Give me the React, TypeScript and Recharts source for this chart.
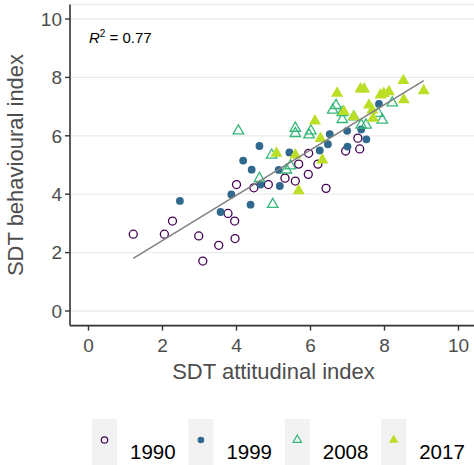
import React from "react";
import { ScatterChart, Scatter, XAxis, YAxis, CartesianGrid, Label } from "recharts";

// values (x = attitudinal, y = behavioural)
const x1990 = [1.21, 2.05, 2.27, 2.98, 3.52, 3.09, 3.77, 3.95, 3.96, 4.0, 4.47, 4.86, 5.31, 5.59, 5.68, 5.94, 5.95, 6.2, 6.42, 6.95, 7.28, 7.33];
const y1990 = [2.63, 2.63, 3.08, 2.57, 2.25, 1.71, 3.34, 3.08, 2.48, 4.33, 4.22, 4.33, 4.55, 4.45, 5.03, 4.68, 5.4, 5.03, 4.2, 5.48, 5.92, 5.55];

const x1999 = [2.47, 3.57, 3.86, 4.38, 4.41, 4.65, 5.17, 4.62, 4.18, 5.43, 5.14, 7.85, 7.51, 7.37, 6.99, 7.0, 6.47, 6.52, 6.25];
const y1999 = [3.77, 3.39, 3.99, 3.64, 4.84, 4.33, 4.28, 5.65, 5.15, 5.43, 4.83, 7.09, 5.88, 6.22, 6.17, 5.63, 5.71, 6.06, 5.5];

const x2008 = [4.05, 4.62, 4.98, 4.95, 5.59, 5.59, 5.35, 5.46, 6.01, 5.96, 6.69, 6.6, 6.86, 6.86, 7.17, 7.37, 7.5, 7.83, 7.94, 8.21];
const y2008 = [6.17, 4.54, 3.65, 5.34, 6.26, 6.08, 4.83, 4.97, 6.17, 6.03, 7.04, 6.88, 6.8, 6.56, 6.65, 6.37, 6.37, 6.77, 6.54, 7.13];

const x2017 = [5.08, 5.59, 5.68, 6.12, 6.27, 6.32, 6.72, 7.35, 7.45, 7.89, 8.12, 8.51, 9.06, 8.52, 7.58, 7.17, 7.69, 6.9, 7.98, 7.67];
const y2017 = [5.4, 5.34, 4.12, 6.51, 5.91, 5.17, 7.46, 7.6, 7.6, 7.4, 7.51, 7.89, 7.54, 7.23, 7.05, 6.65, 6.6, 6.83, 7.45, 6.88];

// fitted line end points
const fitX = [1.21, 9.06];
const fitY = [1.8, 7.89];

const years = ["1990", "1999", "2008", "2017"];
const ticks = [0, 2, 4, 6, 8, 10];

const COLORS = ["#440154", "#31688E", "#35B779", "#BBDF27"];
const FONT = "'Liberation Sans', Arial, sans-serif";

const zip = (xs: number[], ys: number[]) => xs.map((x, i) => ({ x, y: ys[i] }));

const OpenCircle = (p: any) => <circle cx={p.cx} cy={p.cy} r={4} fill="none" stroke={COLORS[0]} strokeWidth={1.3} />;
const DotShape = (p: any) => <circle cx={p.cx} cy={p.cy} r={3.9} fill={COLORS[1]} />;
const triPath = (cx: number, cy: number, s: number) =>
  `M${cx},${cy - s * 0.58} L${cx + s * 0.5},${cy + s * 0.29} L${cx - s * 0.5},${cy + s * 0.29} Z`;
const OpenTri = (p: any) => <path d={triPath(p.cx, p.cy, 10.5)} fill="none" stroke={COLORS[2]} strokeWidth={1.3} />;
const FillTri = (p: any) => <path d={triPath(p.cx, p.cy, 12)} fill={COLORS[3]} />;

function LegendKey({ i }: { i: number }) {
  const bx = 92 + i * 96.4;
  const cx = bx + 12.5;
  const cy = 40;
  let sym;
  if (i === 0) sym = <circle cx={cx} cy={cy} r={3.2} fill="none" stroke={COLORS[0]} strokeWidth={1.2} />;
  else if (i === 1) sym = <circle cx={cx} cy={cy} r={3.3} fill={COLORS[1]} />;
  else if (i === 2) sym = <path d={triPath(cx, cy, 8.5)} fill="none" stroke={COLORS[2]} strokeWidth={1.2} />;
  else sym = <path d={triPath(cx, cy, 9.5)} fill={COLORS[3]} />;
  return (
    <g>
      <rect x={bx} y={19} width={25} height={60} fill="#F2F2F2" />
      {sym}
      <text x={bx + 38} y={59} fontSize={20.5} fill="#000" fontFamily={FONT}>
        {years[i]}
      </text>
    </g>
  );
}

export default function App() {
  return (
    <div style={{ position: "absolute", left: 0, top: 0, width: 474, height: 465, overflow: "hidden", background: "#fff", fontFamily: FONT }}>
      <ScatterChart width={477} height={390} margin={{ top: 4.4, right: 0, bottom: 0, left: 0 }}>
        <CartesianGrid vertical={false} stroke="#EBEBEB" strokeWidth={1.3} />
        <XAxis
          type="number"
          dataKey="x"
          domain={[-0.5, 10.5]}
          ticks={ticks}
          allowDataOverflow
          height={64.4}
          tickSize={5}
          tickMargin={8}
          tick={{ fill: "#4D4D4D", fontSize: 19, fontFamily: FONT }}
          axisLine={{ stroke: "#333", strokeWidth: 1.6 }}
          tickLine={{ stroke: "#333", strokeWidth: 1.4 }}
        >
          <Label value="SDT attitudinal index" position="insideBottom" offset={10.6} fill="#4D4D4D" fontSize={22} fontFamily={FONT} />
        </XAxis>
        <YAxis
          type="number"
          dataKey="y"
          domain={[-0.5, 10.5]}
          ticks={ticks}
          allowDataOverflow
          width={70}
          tickSize={5}
          tickMargin={3}
          tick={{ fill: "#4D4D4D", fontSize: 19, fontFamily: FONT }}
          axisLine={{ stroke: "#333", strokeWidth: 1.6 }}
          tickLine={{ stroke: "#333", strokeWidth: 1.4 }}
        >
          <Label
            value="SDT behavioural index"
            angle={-90}
            position="insideLeft"
            offset={15}
            fill="#4D4D4D"
            fontSize={22}
            fontFamily={FONT}
            style={{ textAnchor: "middle" }}
          />
        </YAxis>
        <Scatter name="1990" data={zip(x1990, y1990)} shape={OpenCircle} isAnimationActive={false} />
        <Scatter name="1999" data={zip(x1999, y1999)} shape={DotShape} isAnimationActive={false} />
        <Scatter name="2008" data={zip(x2008, y2008)} shape={OpenTri} isAnimationActive={false} />
        <Scatter name="2017" data={zip(x2017, y2017)} shape={FillTri} isAnimationActive={false} />
        <Scatter
          name="fit"
          data={zip(fitX, fitY)}
          line={{ stroke: "#808080", strokeWidth: 1.6 }}
          shape={() => <g />}
          isAnimationActive={false}
        />
      </ScatterChart>
      <svg width={474} height={100} style={{ position: "absolute", left: 0, top: 0 }}>
        <text x={89} y={42.7} fontSize={15} fontFamily={FONT} fill="#000">
          <tspan fontStyle="italic">R</tspan>
          <tspan fontSize={10} dy={-6}>2</tspan>
          <tspan dy={6}> = 0.77</tspan>
        </text>
      </svg>
      <svg width={474} height={65} style={{ position: "absolute", left: 0, top: 400 }}>
        {years.map((_, i) => (
          <LegendKey key={i} i={i} />
        ))}
      </svg>
    </div>
  );
}
